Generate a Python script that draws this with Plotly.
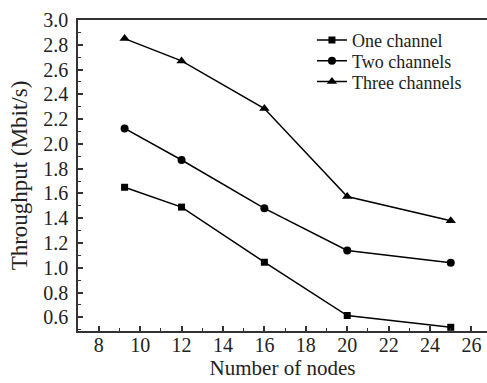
import plotly.graph_objects as go

nodes = [9.25, 12, 16, 20, 25]
one_channel = [1.65, 1.49, 1.045, 0.615, 0.52]
two_channels = [2.125, 1.87, 1.48, 1.14, 1.04]
three_channels = [2.85, 2.67, 2.285, 1.575, 1.38]

series = [
    ("One channel", one_channel, "square", 7, "legend"),
    ("Two channels", two_channels, "circle", 8, "legend2"),
    ("Three channels", three_channels, "triangle-up", 9, "legend3"),
]

FONT = "Liberation Serif, Times New Roman, serif"

fig = go.Figure()
for name, vals, sym, sz, lg in series:
    fig.add_trace(go.Scatter(
        x=nodes, y=vals, name=name, mode="lines+markers",
        line=dict(color="black", width=1.5),
        marker=dict(symbol=sym, size=sz, color="black"),
        legend=lg,
    ))

legend_common = dict(x=0.572, xanchor="left", yanchor="middle",
                     bgcolor="rgba(0,0,0,0)", font=dict(size=18, family=FONT, color="#222"),
                     itemwidth=30, borderwidth=0)

fig.update_layout(
    width=487, height=383,
    margin=dict(l=78, r=0, t=20, b=52),
    paper_bgcolor="white", plot_bgcolor="white",
    font=dict(family=FONT, size=20, color="#222"),
    showlegend=True,
    legend=dict(y=0.935, **legend_common),
    legend2=dict(y=0.868, **legend_common),
    legend3=dict(y=0.801, **legend_common),
    xaxis=dict(
        range=[7, 26.75], tickmode="array", tickvals=list(range(8, 27, 2)),
        ticks="inside", ticklen=5, tickwidth=1.5, tickcolor="#333",
        minor=dict(ticks="inside", ticklen=3, dtick=1, tick0=7, tickcolor="#333", tickwidth=1.2),
        showline=True, linecolor="#333", linewidth=1.5, mirror=True,
        showgrid=False, zeroline=False,
        title=dict(text="Number of nodes", font=dict(size=21), standoff=2),
        tickfont=dict(size=20),
    ),
    yaxis=dict(
        range=[0.49, 3.0], tickmode="array",
        tickvals=[0.6, 0.8, 1.0, 1.2, 1.4, 1.6, 1.8, 2.0, 2.2, 2.4, 2.6, 2.8, 3.0],
        ticktext=["0.6", "0.8", "1.0", "1.2", "1.4", "1.6", "1.8", "2.0", "2.2", "2.4", "2.6", "2.8", "3.0"],
        ticks="inside", ticklen=5, tickwidth=1.5, tickcolor="#333",
        minor=dict(ticks="inside", ticklen=3, dtick=0.1, tick0=0.5, tickcolor="#333", tickwidth=1.2),
        showline=True, linecolor="#333", linewidth=1.5, mirror=False,
        showgrid=False, zeroline=False,
        title=dict(text="Throughput (Mbit/s)", font=dict(size=23), standoff=9),
        tickfont=dict(size=20),
    ),
)

try:
    fig.update_xaxes(ticklabelstandoff=-5)
except (ValueError, AttributeError):
    pass
try:
    fig.update_yaxes(ticklabelstandoff=4)
except (ValueError, AttributeError):
    pass

fig.write_html("out.html")
